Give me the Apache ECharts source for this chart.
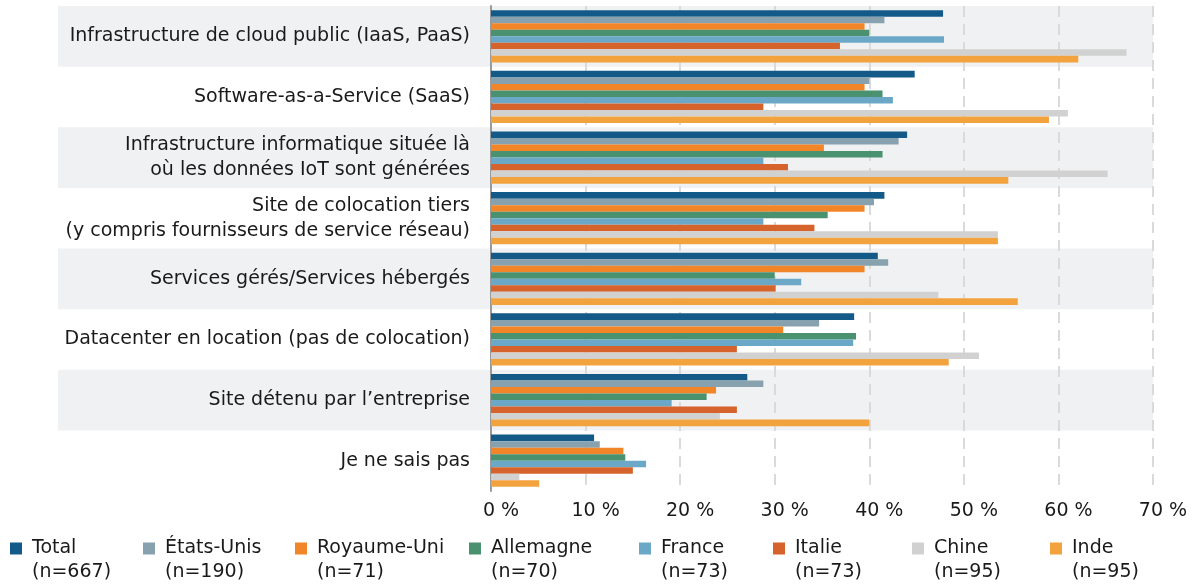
<!DOCTYPE html>
<html>
<head>
<meta charset="utf-8">
<script src="https://cdn.jsdelivr.net/npm/echarts@6/dist/echarts.min.js"></script>
<style>
  html, body { margin: 0; padding: 0; background: #fff; }
  #main { width: 1193px; height: 584px; }
</style>
</head>
<body>
<div id="main"></div>
<script>
// categories, top to bottom
var categories = [
    'Infrastructure de cloud public (IaaS, PaaS)',
    'Software-as-a-Service (SaaS)',
    'Infrastructure informatique située là\noù les données IoT sont générées',
    'Site de colocation tiers\n(y compris fournisseurs de service réseau)',
    'Services gérés/Services hébergés',
    'Datacenter en location (pas de colocation)',
    'Site détenu par l\u2019entreprise',
    'Je ne sais pas'
];

var seriesNames = ['Total', 'États-Unis', 'Royaume-Uni', 'Allemagne', 'France', 'Italie', 'Chine', 'Inde'];
var sampleSizes = [667, 190, 71, 70, 73, 73, 95, 95];
var colors = ['#135a88', '#87a1ae', '#f28527', '#4a9170', '#6ba8c7', '#d6632b', '#d1d1d1', '#f2a33d'];

// values in %, one per category
var total      = [47.8, 44.8, 44.0, 41.6, 40.9, 38.4, 27.1, 10.9];
var etatsUnis  = [41.6, 40.0, 43.1, 40.5, 42.0, 34.7, 28.8, 11.5];
var royaumeUni = [39.5, 39.5, 35.2, 39.5, 39.5, 30.9, 23.8, 14.0];
var allemagne  = [40.0, 41.4, 41.4, 35.6, 30.0, 38.6, 22.8, 14.2];
var france     = [47.9, 42.5, 28.8, 28.8, 32.8, 38.3, 19.1, 16.4];
var italie     = [36.9, 28.8, 31.4, 34.2, 30.1, 26.0, 26.0, 15.0];
var chine      = [67.2, 61.0, 65.2, 53.6, 47.3, 51.6, 24.2, 3.0];
var inde       = [62.1, 59.0, 54.7, 53.6, 55.7, 48.4, 40.0, 5.1];

var seriesValues = [total, etatsUnis, royaumeUni, allemagne, france, italie, chine, inde];

var legendLeft = [10, 143, 295, 469, 639, 773, 912, 1050];

var textColor = '#1a1a1a';
var fontFamily = '"DejaVu Sans", sans-serif';
var fontSize = 19;

var myChart = echarts.init(document.getElementById('main'));

var series = seriesNames.map(function (name, i) {
    return {
        name: name,
        type: 'bar',
        xAxisIndex: 1,
        yAxisIndex: 1,
        data: seriesValues[i],
        barGap: '0%',
        barCategoryGap: '14%',
        itemStyle: { color: colors[i] },
        emphasis: { disabled: true }
    };
});

// an empty first line keeps the square level with the name line
var legends = seriesNames.map(function (name, i) {
    return {
        data: [name],
        left: legendLeft[i],
        top: 515,
        padding: 0,
        itemWidth: 12,
        itemHeight: 12,
        itemGap: 0,
        selectedMode: false,
        icon: 'rect',
        formatter: function (n) {
            return '{e| }\n{a|' + n + '}\n{a|(n=' + sampleSizes[seriesNames.indexOf(n)] + ')}';
        },
        textStyle: {
            color: textColor,
            fontSize: fontSize,
            fontFamily: fontFamily,
            rich: {
                e: { fontSize: fontSize, fontFamily: fontFamily, lineHeight: 24 },
                a: { fontSize: fontSize, fontFamily: fontFamily, lineHeight: 24, color: textColor, padding: [0, 0, 0, 5] }
            }
        }
    };
});

var option = {
    backgroundColor: '#fff',
    animation: false,
    color: colors,
    legend: legends,
    grid: [
        // wide grid only for the alternating bands behind labels and bars
        { left: 58, right: 40, top: 6, bottom: 93 },
        { left: 491, right: 40, top: 6, bottom: 93 }
    ],
    xAxis: [
        {
            gridIndex: 0, type: 'value', min: 0, max: 1, show: false
        },
        {
            gridIndex: 1,
            type: 'value',
            min: 0,
            max: 70,
            interval: 10,
            axisLine: { show: false },
            axisTick: { show: false },
            axisLabel: {
                formatter: '{value} %',
                color: textColor,
                fontSize: fontSize,
                fontFamily: fontFamily,
                padding: [0, 0, 0, 20],
                margin: 11
            },
            splitLine: {
                show: true,
                lineStyle: { color: '#dadada', width: 2, type: [11, 7] }
            }
        }
    ],
    yAxis: [
        {
            gridIndex: 0,
            type: 'category',
            data: categories,
            inverse: true,
            axisLine: { show: false },
            axisTick: { show: false },
            axisLabel: { show: false },
            splitLine: { show: false },
            splitArea: {
                show: true,
                areaStyle: { color: ['#f0f1f3', 'rgba(255,255,255,0)'] }
            }
        },
        {
            gridIndex: 1,
            type: 'category',
            data: categories,
            inverse: true,
            axisLine: { show: true, lineStyle: { color: '#9a9a9a', width: 2 } },
            axisTick: { show: false },
            axisLabel: {
                color: textColor,
                fontSize: fontSize,
                fontFamily: fontFamily,
                lineHeight: 25,
                align: 'right',
                margin: 21
            }
        }
    ],
    series: series
};

myChart.setOption(option);
</script>
</body>
</html>
